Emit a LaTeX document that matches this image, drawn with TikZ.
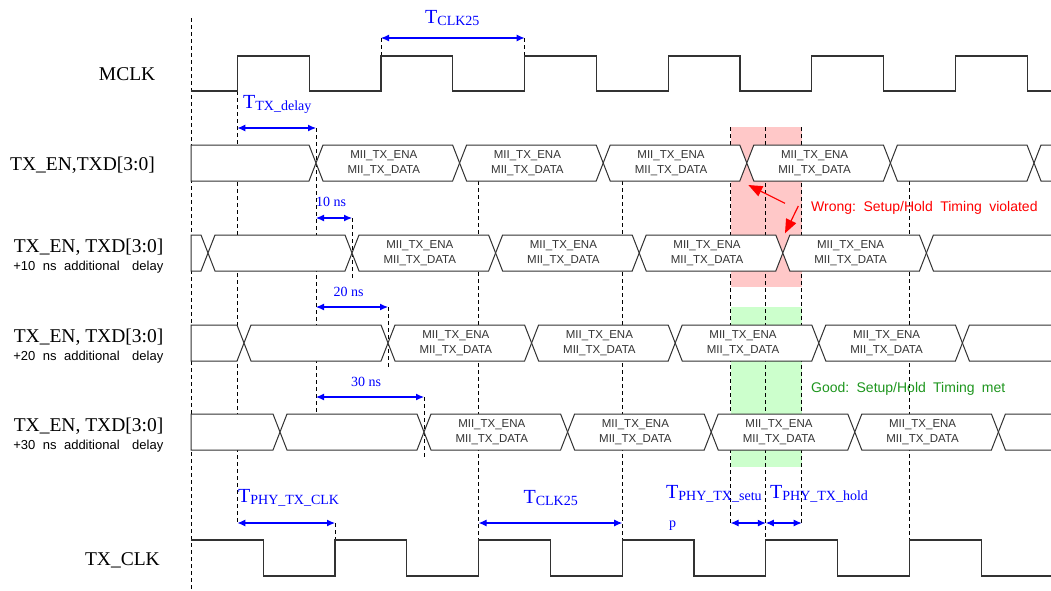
\documentclass[tikz,border=0pt]{standalone}
\usepackage{fontspec}
\setmainfont{Liberation Serif}
\setsansfont{Liberation Sans}
\usetikzlibrary{arrows.meta}
\definecolor{wavec}{RGB}{50,50,50}
\definecolor{dimblue}{RGB}{0,0,255}
\definecolor{redfill}{RGB}{255,200,200}
\definecolor{greenfill}{RGB}{204,255,204}
\definecolor{goodgreen}{RGB}{30,150,30}
\definecolor{wrongred}{RGB}{255,0,0}
\tikzset{
  wave/.style={draw=wavec, line width=1.1pt, line join=miter},
  busline/.style={draw=wavec, line width=1pt, fill=white, line join=miter},
  guide/.style={draw=black, line width=0.8pt, dash pattern=on 4pt off 3pt},
  dim/.style={draw=dimblue, line width=1.1pt, {Latex[length=8pt,width=7pt]}-{Latex[length=8pt,width=7pt]}},
  mii/.style={font=\fontsize{11.5}{12}\sffamily, text=black!80, inner sep=0pt, anchor=base},
  siglabel/.style={font=\fontsize{19.5}{24}\selectfont, anchor=base east, inner sep=0pt},
  sublabel/.style={font=\fontsize{13}{14}\sffamily, anchor=base east, inner sep=0pt},
  tlabel/.style={text=dimblue, anchor=base west, inner sep=0pt},
  nslabel/.style={text=dimblue, font=\fontsize{14}{16}\selectfont, anchor=base, inner sep=0pt},
  note/.style={font=\fontsize{14}{16}\sffamily, anchor=base west, inner sep=0pt},
  warn/.style={draw=wrongred, line width=1.2pt, -{Triangle[length=14pt,width=11pt]}},
}
\newcommand\Tsub[1]{{\fontsize{20}{20}\selectfont T}\raisebox{-2pt}{\fontsize{14}{14}\selectfont #1}}
% a, b, c : box between crossings a and b on a row centred at c
\newcommand\busbox[3]{\path[busline] (#1,#3) -- (#1+7,#3-18) -- (#2-7,#3-18) -- (#2,#3) -- (#2-7,#3+18) -- (#1+7,#3+18) -- cycle;}
\newcommand\busstart[2]{\path[busline] (191,#2-18) -- (#1-7,#2-18) -- (#1,#2) -- (#1-7,#2+18) -- (191,#2+18) -- cycle;}
\newcommand\busend[2]{\fill[white] (#1,#2) -- (#1+7,#2-18) -- (1051,#2-18) -- (1051,#2+18) -- (#1+7,#2+18) -- cycle;
  \draw[busline] (1051,#2-18) -- (#1+7,#2-18) -- (#1,#2) -- (#1+7,#2+18) -- (1051,#2+18);}
\newcommand\miitext[4]{\node[mii] (#1a) at ({(#2+#3)/2-4},#4-4.5) {MII\_TX\_ENA};
  \node[mii] (#1b) at ({(#2+#3)/2-4},#4+10.5) {MII\_TX\_DATA};}
\newcommand\miibox[4]{\busbox{#2}{#3}{#4}\miitext{#1}{#2}{#3}{#4}}

\begin{document}
\begin{tikzpicture}[x=1pt,y=-1pt]
\useasboundingbox (0,0) rectangle (1051,590);
\fill[white] (0,0) rectangle (1051,590);

% setup / hold windows
\fill[redfill] (730.6,127) rectangle (801.7,287);
\fill[greenfill] (730.6,307) rectangle (801.7,467);

% guide lines
\foreach \x/\ya/\yb in {191/18/590, 237.4/91/523, 316/128/414, 352/218/278, 388/307/368,
  424/397/457, 381/38/56, 524.6/38/56, 478.6/181/540, 622.2/181/540, 730.6/127/523,
  765.8/127/540, 801.7/127/523, 909.4/181/540, 335/523/540}
  \draw[guide] (\x,\ya) -- (\x,\yb);

% MCLK
\draw[wave] (191,91) -- (237.4,91) -- (237.4,56) -- (309.2,56) -- (309.2,91) -- (381,91) -- (381,56)
  -- (452.8,56) -- (452.8,91) -- (524.6,91) -- (524.6,56) -- (596.4,56) -- (596.4,91) -- (668.2,91)
  -- (668.2,56) -- (740,56) -- (740,91) -- (811.8,91) -- (811.8,56) -- (883.6,56) -- (883.6,91)
  -- (955.4,91) -- (955.4,56) -- (1027.2,56) -- (1027.2,91) -- (1051,91);

% row 1
\busstart{316}{163}
\miibox{r1x1}{316}{459.6}{163}
\miibox{r1x2}{459.6}{603.2}{163}
\miibox{r1x3}{603.2}{746.8}{163}
\miibox{r1x4}{746.8}{890.4}{163}
\busbox{890.4}{1034}{163}
\busend{1034}{163}
% row 2
\busstart{208}{253}
\busbox{208}{352}{253}
\miibox{r2x1}{352}{495.6}{253}
\miibox{r2x2}{495.6}{639.2}{253}
\miibox{r2x3}{639.2}{782.8}{253}
\miibox{r2x4}{782.8}{926.4}{253}
\busend{926.4}{253}
% row 3
\busstart{244}{343}
\busbox{244}{388}{343}
\miibox{r3x1}{388}{531.6}{343}
\miibox{r3x2}{531.6}{675.2}{343}
\miibox{r3x3}{675.2}{818.8}{343}
\miibox{r3x4}{818.8}{962.4}{343}
\busend{962.4}{343}
% row 4
\busstart{280}{432}
\busbox{280}{424}{432}
\miibox{r4x1}{424}{567.6}{432}
\miibox{r4x2}{567.6}{711.2}{432}
\miibox{r4x3}{711.2}{854.8}{432}
\miibox{r4x4}{854.8}{998.4}{432}
\busend{998.4}{432}

% TX_CLK
\draw[wave] (191,540) -- (263.2,540) -- (263.2,576) -- (335,576) -- (335,540) -- (406.8,540) -- (406.8,576)
  -- (478.6,576) -- (478.6,540) -- (550.4,540) -- (550.4,576) -- (622.2,576) -- (622.2,540) -- (694,540)
  -- (694,576) -- (765.8,576) -- (765.8,540) -- (837.6,540) -- (837.6,576) -- (909.4,576) -- (909.4,540)
  -- (981.2,540) -- (981.2,576) -- (1051,576);

% dimension arrows
\coordinate (ck1) at (381,38);      \coordinate (ck2) at (524.6,38);
\coordinate (td1) at (237.4,128);   \coordinate (td2) at (316,128);
\coordinate (d10a) at (316,218);    \coordinate (d10b) at (352,218);
\coordinate (d20a) at (316,307);    \coordinate (d20b) at (388,307);
\coordinate (d30a) at (316,397);    \coordinate (d30b) at (424,397);
\coordinate (ph1) at (237.4,523);   \coordinate (ph2) at (335,523);
\coordinate (cb1) at (478.6,523);   \coordinate (cb2) at (622.2,523);
\coordinate (su1) at (730.6,523);   \coordinate (su2) at (765.8,523);
\coordinate (ho1) at (765.8,523);   \coordinate (ho2) at (801.7,523);
\draw[dim] (ck1) -- (ck2);
\draw[dim] (td1) -- (td2);
\draw[dim] (d10a) -- (d10b);
\draw[dim] (d20a) -- (d20b);
\draw[dim] (d30a) -- (d30b);
\draw[dim] (ph1) -- (ph2);
\draw[dim] (cb1) -- (cb2);
\draw[dim] (su1) -- (su2);
\draw[dim] (ho1) -- (ho2);

\node[tlabel] (lck) at (425,23.5) {\Tsub{CLK25}};
\node[tlabel] (ltd) at (243,108) {\Tsub{TX\_delay}};
\node[nslabel] (l10) at (331,206) {10 ns};
\node[nslabel] (l20) at (348.6,296) {20 ns};
\node[nslabel] (l30) at (366,386) {30 ns};
\node[tlabel] (lph) at (238,502) {\Tsub{PHY\_TX\_CLK}};
\node[tlabel] (lcb) at (523.4,503) {\Tsub{CLK25}};
\node[tlabel] (lsu) at (666,498) {\Tsub{PHY\_TX\_setu}};
\node[tlabel, font=\fontsize{14}{14}\selectfont] (lsup) at (669,527) {p};
\node[tlabel] (lho) at (770,498) {\Tsub{PHY\_TX\_hold}};

% signal names
\node[siglabel] (nmclk) at (155.5,80) {MCLK};
\node[siglabel] (nrow1) at (155,170) {TX\_EN,TXD[3:0]};
\node[siglabel] (nrow2) at (163.5,252) {TX\_EN, TXD[3:0]};
\node[sublabel] (srow2) at (163.5,270) {+10\hspace{7.5pt}ns\hspace{7.5pt}additional\hspace{12.5pt}delay};
\node[siglabel] (nrow3) at (163.5,342) {TX\_EN, TXD[3:0]};
\node[sublabel] (srow3) at (163.5,360) {+20\hspace{7.5pt}ns\hspace{7.5pt}additional\hspace{12.5pt}delay};
\node[siglabel] (nrow4) at (163.5,431) {TX\_EN, TXD[3:0]};
\node[sublabel] (srow4) at (163.5,449) {+30\hspace{7.5pt}ns\hspace{7.5pt}additional\hspace{12.5pt}delay};
\node[siglabel] (ntxclk) at (160,565) {TX\_CLK};

% notes
\node[note, text=wrongred] (nwrong) at (811,211) {Wrong:\hspace{7.5pt}Setup/Hold\hspace{7.5pt}Timing\hspace{7.5pt}violated};
\node[note, text=goodgreen] (ngood) at (811,392) {Good:\hspace{7.3pt}Setup/Hold\hspace{7.3pt}Timing\hspace{7.3pt}met};
\coordinate (w1s) at (785,203.3);  \coordinate (w1e) at (748.3,185);
\coordinate (w2s) at (798.3,206);  \coordinate (w2e) at (785,233.3);
\draw[warn] (w1s) -- (w1e);
\draw[warn] (w2s) -- (w2e);
\end{tikzpicture}
\end{document}
